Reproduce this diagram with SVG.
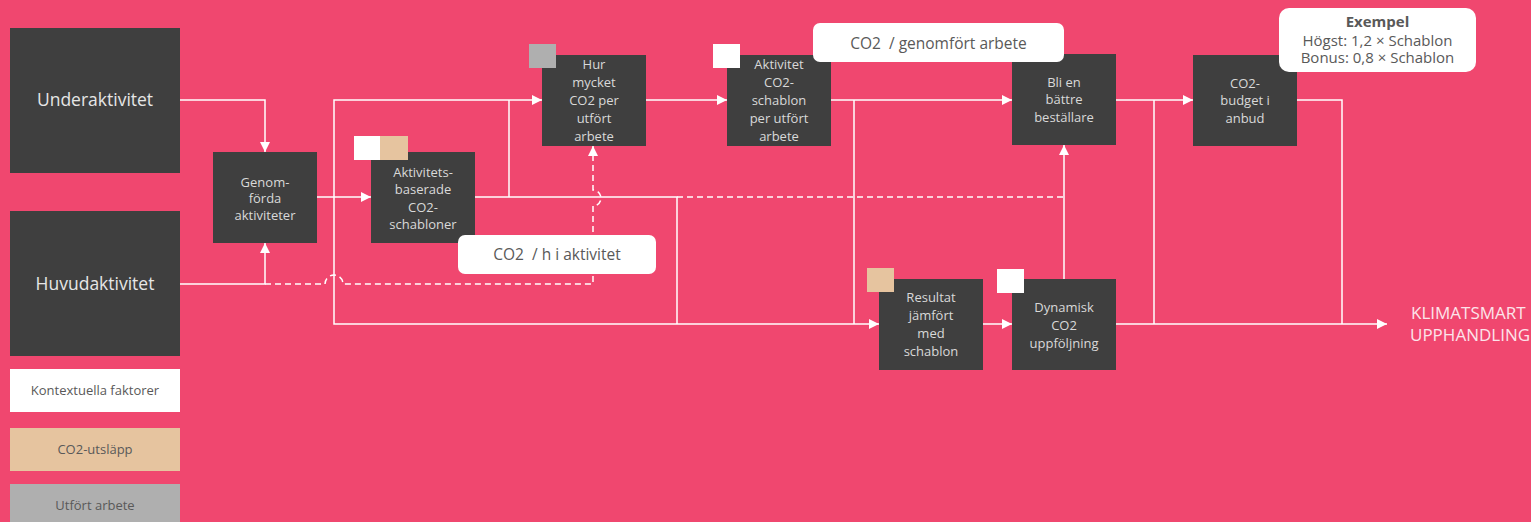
<svg xmlns="http://www.w3.org/2000/svg" width="1531" height="522" viewBox="0 0 1531 522">
<style>
.node{fill:#3F3F3F}
.nt{font-family:"Open Sans","Noto Sans",sans-serif;font-size:13px;fill:#D9D9D9;text-anchor:middle}
.big{font-family:"Open Sans","Noto Sans",sans-serif;font-size:17.5px;fill:#E6E6E6;text-anchor:middle}
.lbl{fill:#FFFFFF}
.lt{font-family:"Open Sans","Noto Sans",sans-serif;font-size:13px;fill:#595959;text-anchor:middle}
.lb{font-family:"Open Sans","Noto Sans",sans-serif;font-size:15.5px;fill:#595959;text-anchor:middle}
.ex{font-family:"Open Sans","Noto Sans",sans-serif;font-size:15px;fill:#595959;text-anchor:middle}
.sq-w{fill:#FFFFFF}
.sq-t{fill:#E6C49F}
.sq-g{fill:#AFAFAF}
.c{fill:none;stroke:#FFFFFF;stroke-width:1.5}
.d{fill:none;stroke:#FFFFFF;stroke-width:1.5;stroke-dasharray:6 4}
.out{font-family:"Open Sans","Noto Sans",sans-serif;font-size:17px;fill:#FCE4EA}
</style>
<defs>
<marker id="arr" markerUnits="userSpaceOnUse" markerWidth="10" markerHeight="10" refX="10" refY="5" orient="auto">
<path d="M0,0 L10,5 L0,10 z" fill="#FFFFFF"/>
</marker>
</defs>
<rect x="0" y="0" width="1531" height="522" fill="#F0476F"/>

<g id="connectors">
<path class="c" d="M180,100 H265 V152" marker-end="url(#arr)"/>
<path class="c" d="M180,284 H265 V243" marker-end="url(#arr)"/>
<path class="d" d="M265,284 H325 A9,9 0 0 1 343,284 H593 V206 A8,8 0 0 0 593,190 V146" marker-end="url(#arr)"/>
<path class="c" d="M317,197 H371" marker-end="url(#arr)"/>
<path class="c" d="M334,197 V100 H542" marker-end="url(#arr)"/>
<path class="c" d="M334,197 V324 H879" marker-end="url(#arr)"/>
<path class="c" d="M475,197 H677 V324"/>
<path class="c" d="M509,197 V100"/>
<path class="c" d="M646,100 H727" marker-end="url(#arr)"/>
<path class="c" d="M831,100 H1012" marker-end="url(#arr)"/>
<path class="c" d="M854,100 V324"/>
<path class="d" d="M677,197 H1064"/>
<path class="c" d="M1064,279 V145" marker-end="url(#arr)"/>
<path class="c" d="M983,324 H1012" marker-end="url(#arr)"/>
<path class="c" d="M1116,100 H1193" marker-end="url(#arr)"/>
<path class="c" d="M1154,100 V324"/>
<path class="c" d="M1297,100 H1342 V324"/>
<path class="c" d="M1116,324 H1387" marker-end="url(#arr)"/>
</g>

<g id="underaktivitet">
<rect class="node" x="10" y="28" width="170" height="145"/>
<text class="big" x="95" y="106">Underaktivitet</text>
</g>
<g id="huvudaktivitet">
<rect class="node" x="10" y="211" width="170" height="145"/>
<text class="big" x="95" y="290">Huvudaktivitet</text>
</g>
<g id="genomforda">
<rect class="node" x="213" y="152" width="104" height="91"/>
<text class="nt" x="265" y="186.5">Genom-</text>
<text class="nt" x="265" y="203">förda</text>
<text class="nt" x="265" y="219.5">aktiviteter</text>
</g>
<g id="aktivitetsbaserade">
<rect class="node" x="371" y="152" width="104" height="91"/>
<rect class="sq-w" x="354" y="136" width="26" height="24"/>
<rect class="sq-t" x="380" y="136" width="28" height="24"/>
<text class="nt" x="423" y="176.5">Aktivitets-</text>
<text class="nt" x="423" y="194">baserade</text>
<text class="nt" x="423" y="211.5">CO2-</text>
<text class="nt" x="423" y="229">schabloner</text>
</g>
<g id="hurmycket">
<rect class="node" x="542" y="55" width="104" height="91"/>
<rect class="sq-g" x="529" y="44" width="27" height="24"/>
<text class="nt" x="594" y="68.5">Hur</text>
<text class="nt" x="594" y="86.5">mycket</text>
<text class="nt" x="594" y="104.5">CO2 per</text>
<text class="nt" x="594" y="122.5">utfört</text>
<text class="nt" x="594" y="140.5">arbete</text>
</g>
<g id="aktivitetschablon">
<rect class="node" x="727" y="55" width="104" height="91"/>
<rect class="sq-w" x="713" y="44" width="27" height="24"/>
<text class="nt" x="779" y="68.5">Aktivitet</text>
<text class="nt" x="779" y="86.5">CO2-</text>
<text class="nt" x="779" y="104.5">schablon</text>
<text class="nt" x="779" y="122.5">per utfört</text>
<text class="nt" x="779" y="140.5">arbete</text>
</g>
<g id="battre">
<rect class="node" x="1012" y="54" width="104" height="91"/>
<text class="nt" x="1064" y="86.5">Bli en</text>
<text class="nt" x="1064" y="104">bättre</text>
<text class="nt" x="1064" y="121.5">beställare</text>
</g>
<g id="budget">
<rect class="node" x="1193" y="55" width="104" height="91"/>
<text class="nt" x="1245" y="87.5">CO2-</text>
<text class="nt" x="1245" y="105">budget i</text>
<text class="nt" x="1245" y="122.5">anbud</text>
</g>
<g id="resultat">
<rect class="node" x="879" y="279" width="104" height="91"/>
<rect class="sq-t" x="867" y="268" width="27" height="24"/>
<text class="nt" x="931" y="301.5">Resultat</text>
<text class="nt" x="931" y="319.5">jämfört</text>
<text class="nt" x="931" y="337.5">med</text>
<text class="nt" x="931" y="355.5">schablon</text>
</g>
<g id="dynamisk">
<rect class="node" x="1012" y="279" width="104" height="91"/>
<rect class="sq-w" x="997" y="269" width="27" height="24"/>
<text class="nt" x="1064" y="311.5">Dynamisk</text>
<text class="nt" x="1064" y="329.5">CO2</text>
<text class="nt" x="1064" y="347.5">uppföljning</text>
</g>

<g id="label-genomfort">
<rect class="lbl" x="813" y="23" width="251" height="39" rx="7"/>
<text class="lb" x="938.5" y="48.5" xml:space="preserve">CO2  / genomfört arbete</text>
</g>
<g id="label-h">
<rect class="lbl" x="458" y="235" width="198" height="39" rx="7"/>
<text class="lb" x="557" y="259.5" xml:space="preserve">CO2  / h i aktivitet</text>
</g>
<g id="exempel">
<rect class="lbl" x="1279" y="8" width="197" height="64" rx="10"/>
<text class="ex" x="1377.5" y="27" font-size="14.5" font-weight="bold" fill="#404040">Exempel</text>
<text class="ex" x="1377.5" y="45.5">Högst: 1,2 × Schablon</text>
<text class="ex" x="1377.5" y="63">Bonus: 0,8 × Schablon</text>
</g>

<g id="utfall">
<text class="out" x="1411" y="319">KLIMATSMART</text>
<text class="out" x="1410" y="341">UPPHANDLING</text>
</g>

<g id="legend-kontext">
<rect fill="#FFFFFF" x="10" y="369" width="170" height="43"/>
<text class="lt" x="95" y="395">Kontextuella faktorer</text>
</g>
<g id="legend-co2">
<rect fill="#E6C49F" x="10" y="428" width="170" height="43"/>
<text class="lt" x="95" y="454">CO2-utsläpp</text>
</g>
<g id="legend-arbete">
<rect fill="#AFAFAF" x="10" y="484" width="170" height="43"/>
<text class="lt" x="95" y="510">Utfört arbete</text>
</g>
</svg>
